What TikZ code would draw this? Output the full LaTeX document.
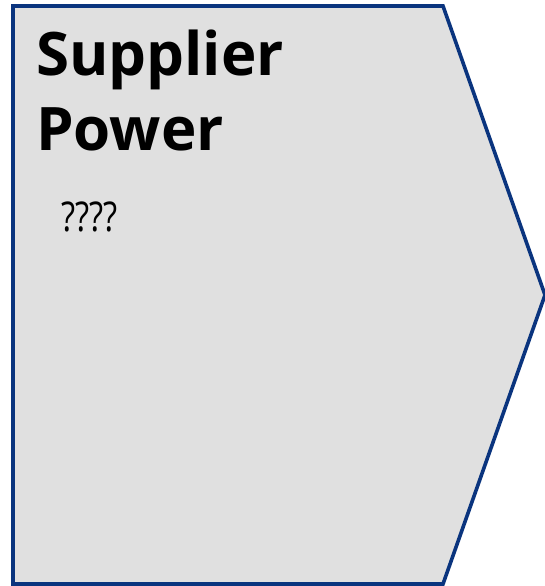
\documentclass[tikz,border=0pt]{standalone}
\usepackage{fontspec}
\usepackage{graphicx}
\setmainfont{Open Sans}
\usetikzlibrary{positioning}
\definecolor{cEdge}{HTML}{0A347E}
\definecolor{cFill}{HTML}{E0E0E0}
\tikzset{
  panel/.style={draw=cEdge,fill=cFill,line width=3.6pt,line join=miter},
  headline/.style={anchor=base west,inner sep=0pt,font=\fontsize{60}{75}\selectfont\bfseries},
  bodytext/.style={anchor=base west,inner sep=0pt,font=\fontsize{41}{48}\selectfont},
}

\begin{document}
\begin{tikzpicture}[x=1pt,y=-1pt]
  \useasboundingbox (0,0) rectangle (545,586);
  \begin{scope}
    \clip (0,0) rectangle (545,586);
    \draw[panel] (13,6) -- (443,6) -- (545,295) -- (443,584) -- (13,584) -- cycle;
  \end{scope}
  \node[headline] (title1) at (36,75) {Supplier};
  \node[headline] (title2) at (36,150) {Power};
  \node[bodytext] (body) at (61,231) {\scalebox{0.8}[1]{????}};
\end{tikzpicture}
\end{document}
